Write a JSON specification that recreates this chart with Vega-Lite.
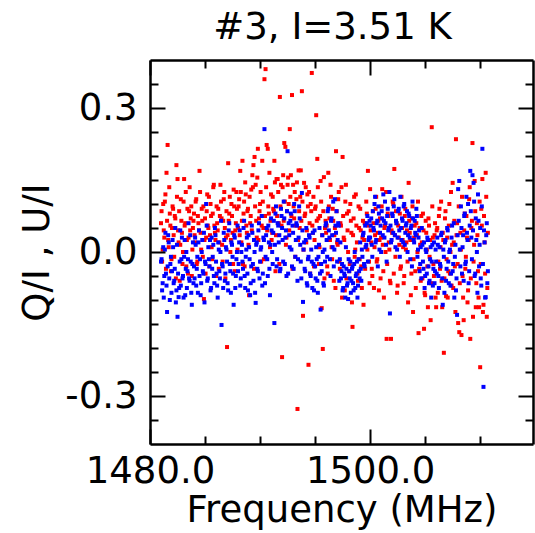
{
"$schema": "https://vega.github.io/schema/vega-lite/v6.json",
"autosize": {"type": "none"},
"padding": {"left": 150, "top": 60, "right": 2, "bottom": 89},
"width": 383,
"height": 384,
"background": "white",
"title": {"text": "#3, I=3.51 K", "font": "DejaVu Sans", "fontSize": 37, "fontWeight": "normal", "color": "black", "offset": 13, "dx": -9},
"config": {
  "view": {"stroke": null, "fill": null},
  "axis": {"labelFont": "DejaVu Sans", "titleFont": "DejaVu Sans", "labelColor": "black", "titleColor": "black", "domainColor": "black", "gridColor": "black", "gridOpacity": 1, "gridWidth": 2, "labelFontSize": 37, "titleFontSize": 37, "titleFontWeight": "normal", "domainWidth": 2.5, "labelOverlap": false, "labelFlush": false, "labelBound": false}
},
"data": {"values": [
{"f":1481.0,"q":0.06,"u":-0.02},{"f":1481.1,"q":-0.02,"u":-0.08},{"f":1481.2,"q":0.10,"u":0.01},{"f":1481.3,"q":0.03,"u":-0.05},{"f":1481.4,"q":0.12,"u":0.04},{"f":1481.5,"q":0.165,"u":-0.07},{"f":1481.6,"q":0.223,"u":-0.03},{"f":1481.7,"q":0.01,"u":0.02},{"f":1481.8,"q":0.08,"u":-0.10},{"f":1481.9,"q":-0.04,"u":-0.01},
{"f":1482.0,"q":0.05,"u":-0.04},{"f":1482.1,"q":0.09,"u":0.01},{"f":1482.2,"q":-0.01,"u":-0.06},{"f":1482.3,"q":0.07,"u":0.05},{"f":1482.4,"q":0.181,"u":-0.08},{"f":1482.5,"q":0.152,"u":-0.135},{"f":1482.6,"q":0.02,"u":-0.094},{"f":1482.7,"q":-0.06,"u":-0.02},{"f":1482.8,"q":0.11,"u":-0.07},{"f":1482.9,"q":0.04,"u":0.03},
{"f":1483.0,"q":0.00,"u":-0.05},{"f":1483.1,"q":0.152,"u":-0.01},{"f":1483.2,"q":0.06,"u":-0.09},{"f":1483.3,"q":-0.03,"u":0.00},{"f":1483.4,"q":0.09,"u":-0.04},{"f":1483.5,"q":0.03,"u":0.06},{"f":1483.6,"q":0.135,"u":-0.06},{"f":1483.7,"q":0.07,"u":-0.02},{"f":1483.8,"q":-0.05,"u":-0.11},{"f":1483.9,"q":0.05,"u":0.02},
{"f":1484.0,"q":0.08,"u":-0.03},{"f":1484.1,"q":0.02,"u":0.03},{"f":1484.2,"q":0.11,"u":-0.07},{"f":1484.3,"q":-0.02,"u":-0.01},{"f":1484.4,"q":0.06,"u":0.02},{"f":1484.5,"q":0.169,"u":-0.05},{"f":1484.6,"q":0.04,"u":-0.09},{"f":1484.7,"q":0.09,"u":0.00},{"f":1484.8,"q":-0.01,"u":-0.04},{"f":1484.9,"q":-0.098,"u":0.04},
{"f":1485.0,"q":0.07,"u":-0.02},{"f":1485.1,"q":0.03,"u":0.10},{"f":1485.2,"q":0.12,"u":-0.06},{"f":1485.3,"q":0.05,"u":0.01},{"f":1485.4,"q":-0.03,"u":-0.03},{"f":1485.5,"q":0.10,"u":-0.08},{"f":1485.6,"q":0.01,"u":0.03},{"f":1485.7,"q":0.08,"u":-0.01},{"f":1485.8,"q":0.14,"u":-0.05},{"f":1485.9,"q":0.04,"u":0.05},
{"f":1486.0,"q":-0.05,"u":-0.02},{"f":1486.1,"q":0.06,"u":-0.07},{"f":1486.2,"q":0.09,"u":0.02},{"f":1486.3,"q":0.02,"u":-0.04},{"f":1486.4,"q":0.14,"u":0.00},{"f":1486.5,"q":0.07,"u":-0.152},{"f":1486.6,"q":-0.02,"u":-0.03},{"f":1486.7,"q":0.11,"u":0.04},{"f":1486.8,"q":0.05,"u":-0.06},{"f":1486.9,"q":0.03,"u":0.01},
{"f":1487.0,"q":-0.198,"u":-0.02},{"f":1487.1,"q":0.185,"u":-0.08},{"f":1487.2,"q":0.08,"u":0.06},{"f":1487.3,"q":0.00,"u":-0.04},{"f":1487.4,"q":0.10,"u":0.02},{"f":1487.5,"q":0.04,"u":-0.01},{"f":1487.6,"q":0.13,"u":-0.11},{"f":1487.7,"q":-0.04,"u":0.03},{"f":1487.8,"q":0.06,"u":-0.05},{"f":1487.9,"q":0.09,"u":0.00},
{"f":1488.0,"q":0.05,"u":-0.04},{"f":1488.1,"q":0.11,"u":0.02},{"f":1488.2,"q":0.169,"u":-0.07},{"f":1488.3,"q":0.02,"u":0.00},{"f":1488.4,"q":0.19,"u":-0.02},{"f":1488.5,"q":0.08,"u":0.05},{"f":1488.6,"q":-0.03,"u":-0.05},{"f":1488.7,"q":0.12,"u":-0.01},{"f":1488.8,"q":0.04,"u":0.03},{"f":1488.9,"q":0.09,"u":-0.08},
{"f":1489.0,"q":-0.09,"u":0.01},{"f":1489.1,"q":0.06,"u":-0.09},{"f":1489.2,"q":0.13,"u":-0.03},{"f":1489.3,"q":0.16,"u":0.04},{"f":1489.4,"q":0.181,"u":-0.06},{"f":1489.5,"q":0.198,"u":0.00},{"f":1489.6,"q":0.14,"u":-0.106},{"f":1489.7,"q":0.03,"u":0.02},{"f":1489.8,"q":0.215,"u":-0.04},{"f":1489.9,"q":0.07,"u":0.06},
{"f":1490.0,"q":0.10,"u":-0.02},{"f":1490.1,"q":-0.02,"u":0.01},{"f":1490.2,"q":0.19,"u":-0.07},{"f":1490.3,"q":0.05,"u":0.03},{"f":1490.4,"q":0.36,"u":0.256},{"f":1490.5,"q":0.381,"u":-0.01},{"f":1490.6,"q":0.223,"u":0.05},{"f":1490.7,"q":0.215,"u":-0.05},{"f":1490.8,"q":0.08,"u":0.02},{"f":1490.9,"q":0.01,"u":-0.09},
{"f":1491.0,"q":0.12,"u":0.07},{"f":1491.1,"q":0.04,"u":0.00},{"f":1491.2,"q":0.09,"u":0.04},{"f":1491.3,"q":0.19,"u":-0.148},{"f":1491.4,"q":-0.04,"u":0.08},{"f":1491.5,"q":0.152,"u":-0.03},{"f":1491.6,"q":0.152,"u":0.06},{"f":1491.7,"q":0.06,"u":0.02},{"f":1491.8,"q":0.323,"u":-0.04},{"f":1491.9,"q":0.14,"u":0.09},
{"f":1492.0,"q":-0.219,"u":0.05},{"f":1492.1,"q":0.16,"u":-0.02},{"f":1492.2,"q":0.227,"u":0.07},{"f":1492.3,"q":0.219,"u":0.03},{"f":1492.4,"q":0.03,"u":-0.05},{"f":1492.5,"q":0.14,"u":0.21},{"f":1492.6,"q":0.10,"u":0.06},{"f":1492.7,"q":0.256,"u":0.01},{"f":1492.8,"q":0.16,"u":0.08},{"f":1492.9,"q":0.327,"u":-0.03},
{"f":1493.0,"q":0.14,"u":0.04},{"f":1493.1,"q":0.07,"u":0.10},{"f":1493.2,"q":-0.01,"u":-0.01},{"f":1493.3,"q":0.11,"u":0.06},{"f":1493.4,"q":-0.327,"u":-0.06},{"f":1493.5,"q":0.17,"u":0.03},{"f":1493.6,"q":0.05,"u":0.07},{"f":1493.7,"q":0.17,"u":-0.02},{"f":1493.8,"q":0.335,"u":0.123},{"f":1493.9,"q":-0.133,"u":-0.104},
{"f":1494.0,"q":0.144,"u":0.02},{"f":1494.1,"q":0.08,"u":-0.04},{"f":1494.2,"q":0.02,"u":0.05},{"f":1494.3,"q":0.12,"u":-0.07},{"f":1494.4,"q":-0.235,"u":-0.01},{"f":1494.5,"q":0.06,"u":0.03},{"f":1494.6,"q":0.10,"u":-0.05},{"f":1494.7,"q":0.373,"u":-0.02},{"f":1494.8,"q":0.04,"u":0.04},{"f":1494.9,"q":-0.03,"u":-0.08},
{"f":1495.0,"q":0.09,"u":-0.03},{"f":1495.1,"q":0.285,"u":0.01},{"f":1495.2,"q":0.194,"u":-0.06},{"f":1495.3,"q":0.07,"u":-0.01},{"f":1495.4,"q":0.01,"u":0.05},{"f":1495.5,"q":0.148,"u":-0.12},{"f":1495.6,"q":-0.117,"u":-0.04},{"f":1495.7,"q":-0.202,"u":0.00},{"f":1495.8,"q":0.156,"u":-0.07},{"f":1495.9,"q":0.05,"u":-0.02},
{"f":1496.0,"q":0.04,"u":0.06},{"f":1496.1,"q":-0.03,"u":-0.01},{"f":1496.2,"q":0.165,"u":0.09},{"f":1496.3,"q":0.07,"u":0.03},{"f":1496.4,"q":0.14,"u":-0.05},{"f":1496.5,"q":0.01,"u":0.07},{"f":1496.6,"q":0.09,"u":0.01},{"f":1496.7,"q":-0.06,"u":-0.03},{"f":1496.8,"q":0.05,"u":0.11},{"f":1496.9,"q":0.21,"u":0.04},
{"f":1497.0,"q":0.02,"u":-0.02},{"f":1497.1,"q":0.11,"u":0.06},{"f":1497.2,"q":-0.02,"u":-0.06},{"f":1497.3,"q":0.06,"u":0.02},{"f":1497.4,"q":0.135,"u":-0.04},{"f":1497.5,"q":0.198,"u":-0.08},{"f":1497.6,"q":0.03,"u":-0.03},{"f":1497.7,"q":-0.08,"u":-0.05},{"f":1497.8,"q":0.14,"u":0.01},{"f":1497.9,"q":0.08,"u":-0.07},
{"f":1498.0,"q":0.00,"u":-0.098},{"f":1498.1,"q":-0.04,"u":-0.04},{"f":1498.2,"q":0.10,"u":-0.02},{"f":1498.3,"q":0.04,"u":-0.06},{"f":1498.4,"q":-0.156,"u":-0.03},{"f":1498.5,"q":0.07,"u":-0.08},{"f":1498.6,"q":-0.01,"u":0.00},{"f":1498.7,"q":0.12,"u":-0.05},{"f":1498.8,"q":0.02,"u":-0.02},{"f":1498.9,"q":-0.06,"u":-0.07},
{"f":1499.0,"q":0.05,"u":-0.04},{"f":1499.1,"q":0.09,"u":0.02},{"f":1499.2,"q":-0.03,"u":-0.06},{"f":1499.3,"q":0.03,"u":-0.01},{"f":1499.4,"q":-0.11,"u":0.04},{"f":1499.5,"q":0.06,"u":-0.03},{"f":1499.6,"q":0.01,"u":0.01},{"f":1499.7,"q":0.08,"u":0.06},{"f":1499.8,"q":0.169,"u":-0.02},{"f":1499.9,"q":-0.02,"u":0.03},
{"f":1500.0,"q":0.131,"u":0.03},{"f":1500.1,"q":0.02,"u":0.07},{"f":1500.2,"q":-0.05,"u":-0.01},{"f":1500.3,"q":0.06,"u":0.05},{"f":1500.4,"q":0.01,"u":0.10},{"f":1500.5,"q":0.09,"u":0.02},{"f":1500.6,"q":-0.02,"u":0.06},{"f":1500.7,"q":0.04,"u":-0.03},{"f":1500.8,"q":-0.08,"u":0.08},{"f":1500.9,"q":0.07,"u":0.04},
{"f":1501.0,"q":0.03,"u":0.00},{"f":1501.1,"q":0.131,"u":0.07},{"f":1501.2,"q":-0.04,"u":0.12},{"f":1501.3,"q":0.05,"u":0.03},{"f":1501.4,"q":0.00,"u":0.06},{"f":1501.5,"q":-0.181,"u":-0.02},{"f":1501.6,"q":0.08,"u":0.09},{"f":1501.7,"q":0.02,"u":0.05},{"f":1501.8,"q":-0.06,"u":-0.128},{"f":1501.9,"q":-0.181,"u":0.02},
{"f":1502.0,"q":0.04,"u":0.08},{"f":1502.1,"q":0.10,"u":0.04},{"f":1502.2,"q":0.173,"u":0.11},{"f":1502.3,"q":-0.01,"u":0.01},{"f":1502.4,"q":0.06,"u":0.06},{"f":1502.5,"q":-0.07,"u":0.03},{"f":1502.6,"q":0.03,"u":0.09},{"f":1502.7,"q":0.08,"u":-0.01},{"f":1502.8,"q":-0.03,"u":0.05},{"f":1502.9,"q":0.05,"u":0.07},
{"f":1503.0,"q":0.01,"u":0.02},{"f":1503.1,"q":-0.05,"u":0.10},{"f":1503.2,"q":0.09,"u":0.04},{"f":1503.3,"q":0.02,"u":0.06},{"f":1503.4,"q":-0.02,"u":0.00},{"f":1503.5,"q":0.144,"u":0.08},{"f":1503.6,"q":0.04,"u":0.03},{"f":1503.7,"q":-0.09,"u":0.05},{"f":1503.8,"q":0.07,"u":-0.03},{"f":1503.9,"q":-0.125,"u":0.07},
{"f":1504.0,"q":0.03,"u":0.02},{"f":1504.1,"q":-0.04,"u":0.04},{"f":1504.2,"q":0.06,"u":0.09},{"f":1504.3,"q":0.00,"u":-0.01},{"f":1504.4,"q":-0.169,"u":0.03},{"f":1504.5,"q":0.05,"u":-0.04},{"f":1504.6,"q":-0.06,"u":0.01},{"f":1504.7,"q":0.02,"u":0.05},{"f":1504.8,"q":0.08,"u":-0.02},{"f":1504.9,"q":-0.16,"u":0.02},
{"f":1505.0,"q":-0.09,"u":-0.05},{"f":1505.1,"q":0.04,"u":0.00},{"f":1505.2,"q":-0.03,"u":0.03},{"f":1505.3,"q":0.07,"u":-0.03},{"f":1505.4,"q":-0.01,"u":-0.06},{"f":1505.5,"q":-0.142,"u":0.01},{"f":1505.6,"q":0.26,"u":-0.02},{"f":1505.7,"q":0.03,"u":-0.07},{"f":1505.8,"q":-0.05,"u":0.02},{"f":1505.9,"q":0.06,"u":-0.04},
{"f":1506.0,"q":-0.115,"u":-0.02},{"f":1506.1,"q":0.05,"u":0.03},{"f":1506.2,"q":-0.02,"u":-0.05},{"f":1506.3,"q":0.09,"u":0.01},{"f":1506.4,"q":0.01,"u":-0.03},{"f":1506.5,"q":-0.06,"u":0.04},{"f":1506.6,"q":0.04,"u":-0.11},{"f":1506.7,"q":-0.21,"u":-0.01},{"f":1506.8,"q":0.07,"u":0.02},{"f":1506.9,"q":-0.092,"u":-0.06},
{"f":1507.0,"q":0.03,"u":0.05},{"f":1507.1,"q":-0.04,"u":-0.02},{"f":1507.2,"q":0.10,"u":0.00},{"f":1507.3,"q":0.00,"u":-0.07},{"f":1507.4,"q":-0.07,"u":0.03},{"f":1507.5,"q":0.144,"u":-0.04},{"f":1507.6,"q":0.02,"u":0.06},{"f":1507.7,"q":-0.03,"u":-0.01},{"f":1507.8,"q":0.235,"u":-0.08},{"f":1507.9,"q":0.06,"u":-0.131},
{"f":1508.0,"q":-0.148,"u":0.131},{"f":1508.1,"q":-0.167,"u":0.148},{"f":1508.2,"q":0.04,"u":-0.03},{"f":1508.3,"q":-0.173,"u":0.05},{"f":1508.4,"q":-0.05,"u":0.01},{"f":1508.5,"q":-0.142,"u":-0.06},{"f":1508.6,"q":0.08,"u":0.08},{"f":1508.7,"q":-0.01,"u":-0.02},{"f":1508.8,"q":0.03,"u":0.04},{"f":1508.9,"q":-0.08,"u":0.10},
{"f":1509.0,"q":0.11,"u":-0.04},{"f":1509.1,"q":-0.181,"u":0.169},{"f":1509.2,"q":0.05,"u":0.03},{"f":1509.3,"q":0.227,"u":0.16},{"f":1509.4,"q":-0.02,"u":0.144},{"f":1509.5,"q":0.148,"u":-0.05},{"f":1509.6,"q":-0.115,"u":0.07},{"f":1509.7,"q":0.06,"u":0.00},{"f":1509.8,"q":-0.04,"u":0.12},{"f":1509.9,"q":-0.115,"u":-0.03},
{"f":1510.0,"q":-0.24,"u":0.05},{"f":1510.1,"q":0.09,"u":-0.07},{"f":1510.2,"q":0.152,"u":0.215},{"f":1510.3,"q":-0.11,"u":-0.281},{"f":1510.4,"q":0.02,"u":0.02},{"f":1510.5,"q":0.165,"u":-0.094},{"f":1510.6,"q":-0.135,"u":0.06},{"f":1510.7,"q":0.04,"u":-0.04},
{"f":1481.05,"q":0.085,"u":-0.015},{"f":1481.15,"q":0.005,"u":-0.065},{"f":1481.25,"q":0.045,"u":-0.095},{"f":1481.35,"q":0.105,"u":0.005},{"f":1481.45,"q":-0.035,"u":-0.045},{"f":1481.55,"q":0.065,"u":-0.125},{"f":1481.65,"q":0.025,"u":0.035},{"f":1481.75,"q":0.135,"u":-0.055},{"f":1481.85,"q":0.055,"u":-0.025},{"f":1481.95,"q":-0.015,"u":-0.085},
{"f":1482.05,"q":0.095,"u":0.025},{"f":1482.15,"q":0.035,"u":-0.065},{"f":1482.25,"q":0.075,"u":-0.035},{"f":1482.35,"q":-0.055,"u":-0.105},{"f":1482.45,"q":0.115,"u":0.015},{"f":1482.55,"q":0.045,"u":-0.045},{"f":1482.65,"q":0.085,"u":-0.075},{"f":1482.75,"q":0.015,"u":0.045},{"f":1482.85,"q":0.065,"u":-0.015},{"f":1482.95,"q":-0.025,"u":-0.055},
{"f":1483.05,"q":0.105,"u":-0.095},{"f":1483.15,"q":0.055,"u":0.025},{"f":1483.25,"q":0.125,"u":-0.035},{"f":1483.35,"q":0.025,"u":-0.075},{"f":1483.45,"q":-0.045,"u":-0.015},{"f":1483.55,"q":0.085,"u":-0.055},{"f":1483.65,"q":0.045,"u":0.035},{"f":1483.75,"q":0.095,"u":-0.085},{"f":1483.85,"q":0.005,"u":-0.025},{"f":1483.95,"q":0.065,"u":-0.065},
{"f":1484.05,"q":0.035,"u":-0.055},{"f":1484.15,"q":0.105,"u":0.015},{"f":1484.25,"q":-0.025,"u":-0.035},{"f":1484.35,"q":0.075,"u":-0.085},{"f":1484.45,"q":0.045,"u":0.045},{"f":1484.55,"q":0.125,"u":-0.015},{"f":1484.65,"q":0.005,"u":-0.065},{"f":1484.75,"q":0.065,"u":0.025},{"f":1484.85,"q":0.095,"u":-0.045},{"f":1484.95,"q":0.025,"u":-0.105},
{"f":1485.05,"q":-0.045,"u":-0.025},{"f":1485.15,"q":0.085,"u":0.055},{"f":1485.25,"q":0.055,"u":-0.055},{"f":1485.35,"q":0.115,"u":-0.015},{"f":1485.45,"q":0.035,"u":0.025},{"f":1485.55,"q":0.075,"u":-0.075},{"f":1485.65,"q":-0.015,"u":-0.035},{"f":1485.75,"q":0.135,"u":0.015},{"f":1485.85,"q":0.055,"u":-0.065},{"f":1485.95,"q":0.025,"u":0.035},
{"f":1486.05,"q":0.095,"u":-0.045},{"f":1486.15,"q":0.045,"u":-0.095},{"f":1486.25,"q":-0.035,"u":0.005},{"f":1486.35,"q":0.075,"u":-0.055},{"f":1486.45,"q":0.105,"u":0.065},{"f":1486.55,"q":0.015,"u":-0.025},{"f":1486.65,"q":0.065,"u":-0.075},{"f":1486.75,"q":0.125,"u":0.025},{"f":1486.85,"q":-0.055,"u":-0.045},{"f":1486.95,"q":0.085,"u":0.005},
{"f":1487.05,"q":0.035,"u":-0.065},{"f":1487.15,"q":0.065,"u":0.045},{"f":1487.25,"q":0.115,"u":-0.025},{"f":1487.35,"q":0.025,"u":-0.085},{"f":1487.45,"q":0.075,"u":0.015},{"f":1487.55,"q":-0.025,"u":-0.045},{"f":1487.65,"q":0.095,"u":0.035},{"f":1487.75,"q":0.045,"u":-0.075},{"f":1487.85,"q":0.125,"u":-0.015},{"f":1487.95,"q":0.005,"u":0.055},
{"f":1488.05,"q":0.095,"u":-0.025},{"f":1488.15,"q":0.035,"u":0.045},{"f":1488.25,"q":0.125,"u":-0.055},{"f":1488.35,"q":0.065,"u":0.015},{"f":1488.45,"q":-0.025,"u":-0.035},{"f":1488.55,"q":0.105,"u":0.065},{"f":1488.65,"q":0.145,"u":-0.075},{"f":1488.75,"q":0.055,"u":0.005},{"f":1488.85,"q":0.085,"u":-0.045},{"f":1488.95,"q":0.015,"u":0.035},
{"f":1489.05,"q":0.115,"u":-0.015},{"f":1489.15,"q":0.075,"u":-0.065},{"f":1489.25,"q":0.045,"u":0.055},{"f":1489.35,"q":0.135,"u":-0.025},{"f":1489.45,"q":-0.035,"u":0.025},{"f":1489.55,"q":0.095,"u":-0.085},{"f":1489.65,"q":0.065,"u":0.015},{"f":1489.75,"q":0.155,"u":-0.035},{"f":1489.85,"q":0.025,"u":0.045},{"f":1489.95,"q":0.085,"u":-0.055},
{"f":1490.05,"q":0.125,"u":0.005},{"f":1490.15,"q":0.055,"u":0.075},{"f":1490.25,"q":0.105,"u":-0.045},{"f":1490.35,"q":-0.015,"u":0.025},{"f":1490.45,"q":0.075,"u":-0.065},{"f":1490.55,"q":0.135,"u":0.035},{"f":1490.65,"q":0.045,"u":-0.015},{"f":1490.75,"q":0.095,"u":0.055},{"f":1490.85,"q":0.165,"u":-0.035},{"f":1490.95,"q":0.065,"u":0.015},
{"f":1491.05,"q":0.025,"u":0.045},{"f":1491.15,"q":0.115,"u":-0.025},{"f":1491.25,"q":0.085,"u":0.065},{"f":1491.35,"q":0.145,"u":0.015},{"f":1491.45,"q":0.035,"u":0.095},{"f":1491.55,"q":0.075,"u":-0.015},{"f":1491.65,"q":0.125,"u":0.055},{"f":1491.75,"q":-0.025,"u":0.035},{"f":1491.85,"q":0.095,"u":-0.035},{"f":1491.95,"q":0.055,"u":0.075},
{"f":1492.05,"q":0.135,"u":0.025},{"f":1492.15,"q":0.065,"u":0.105},{"f":1492.25,"q":0.105,"u":-0.025},{"f":1492.35,"q":0.015,"u":0.045},{"f":1492.45,"q":0.085,"u":0.085},{"f":1492.55,"q":0.155,"u":-0.045},{"f":1492.65,"q":0.045,"u":0.035},{"f":1492.75,"q":0.115,"u":0.065},{"f":1492.85,"q":0.075,"u":0.005},{"f":1492.95,"q":-0.035,"u":0.055},
{"f":1493.05,"q":0.095,"u":-0.035},{"f":1493.15,"q":0.125,"u":0.085},{"f":1493.25,"q":0.055,"u":0.025},{"f":1493.35,"q":0.145,"u":0.055},{"f":1493.45,"q":0.025,"u":-0.015},{"f":1493.55,"q":0.085,"u":0.095},{"f":1493.65,"q":0.115,"u":0.015},{"f":1493.75,"q":0.065,"u":-0.055},{"f":1493.85,"q":0.105,"u":0.045},{"f":1493.95,"q":0.005,"u":0.005},
{"f":1494.05,"q":0.075,"u":-0.035},{"f":1494.15,"q":0.135,"u":0.025},{"f":1494.25,"q":0.045,"u":-0.065},{"f":1494.35,"q":0.095,"u":-0.015},{"f":1494.45,"q":0.125,"u":0.035},{"f":1494.55,"q":-0.045,"u":-0.045},{"f":1494.65,"q":0.085,"u":0.005},{"f":1494.75,"q":0.055,"u":-0.075},{"f":1494.85,"q":0.115,"u":-0.025},{"f":1494.95,"q":0.025,"u":0.045},
{"f":1495.05,"q":0.095,"u":-0.055},{"f":1495.15,"q":0.065,"u":-0.015},{"f":1495.25,"q":0.135,"u":-0.085},{"f":1495.35,"q":-0.025,"u":0.015},{"f":1495.45,"q":0.075,"u":-0.045},{"f":1495.55,"q":0.105,"u":-0.025},{"f":1495.65,"q":0.035,"u":0.035},{"f":1495.75,"q":0.085,"u":-0.065},{"f":1495.85,"q":-0.055,"u":0.005},{"f":1495.95,"q":0.065,"u":0.055},
{"f":1496.05,"q":0.055,"u":0.025},{"f":1496.15,"q":-0.045,"u":0.085},{"f":1496.25,"q":0.095,"u":0.045},{"f":1496.35,"q":0.025,"u":-0.015},{"f":1496.45,"q":0.115,"u":0.065},{"f":1496.55,"q":-0.015,"u":0.035},{"f":1496.65,"q":0.065,"u":0.105},{"f":1496.75,"q":0.035,"u":0.005},{"f":1496.85,"q":-0.075,"u":0.055},{"f":1496.95,"q":0.085,"u":0.085},
{"f":1497.05,"q":0.015,"u":0.025},{"f":1497.15,"q":0.125,"u":0.055},{"f":1497.25,"q":-0.035,"u":-0.015},{"f":1497.35,"q":0.055,"u":-0.055},{"f":1497.45,"q":-0.095,"u":-0.025},{"f":1497.55,"q":0.075,"u":-0.075},{"f":1497.65,"q":0.025,"u":-0.045},{"f":1497.75,"q":0.105,"u":-0.095},{"f":1497.85,"q":-0.055,"u":-0.035},{"f":1497.95,"q":0.045,"u":-0.065},
{"f":1498.05,"q":0.085,"u":-0.015},{"f":1498.15,"q":-0.025,"u":-0.055},{"f":1498.25,"q":0.065,"u":-0.085},{"f":1498.35,"q":-0.105,"u":-0.035},{"f":1498.45,"q":0.035,"u":-0.065},{"f":1498.55,"q":0.115,"u":-0.025},{"f":1498.65,"q":0.005,"u":-0.075},{"f":1498.75,"q":0.055,"u":-0.045},{"f":1498.85,"q":-0.045,"u":-0.095},{"f":1498.95,"q":0.095,"u":-0.015},
{"f":1499.05,"q":-0.015,"u":-0.055},{"f":1499.15,"q":0.045,"u":-0.035},{"f":1499.25,"q":-0.075,"u":0.005},{"f":1499.35,"q":0.065,"u":0.035},{"f":1499.45,"q":0.025,"u":-0.025},{"f":1499.55,"q":-0.035,"u":0.055},{"f":1499.65,"q":0.105,"u":0.015},{"f":1499.75,"q":0.005,"u":0.075},{"f":1499.85,"q":0.055,"u":0.025},{"f":1499.95,"q":-0.065,"u":0.065},
{"f":1500.05,"q":0.045,"u":0.055},{"f":1500.15,"q":-0.035,"u":0.015},{"f":1500.25,"q":0.085,"u":0.085},{"f":1500.35,"q":-0.075,"u":0.045},{"f":1500.45,"q":0.035,"u":0.115},{"f":1500.55,"q":0.115,"u":0.025},{"f":1500.65,"q":-0.015,"u":0.065},{"f":1500.75,"q":0.065,"u":0.095},{"f":1500.85,"q":0.025,"u":0.005},{"f":1500.95,"q":-0.055,"u":0.055},
{"f":1501.05,"q":0.095,"u":0.085},{"f":1501.15,"q":0.015,"u":0.035},{"f":1501.25,"q":-0.095,"u":0.065},{"f":1501.35,"q":0.055,"u":0.105},{"f":1501.45,"q":0.125,"u":0.015},{"f":1501.55,"q":-0.025,"u":0.075},{"f":1501.65,"q":0.075,"u":0.045},{"f":1501.75,"q":0.005,"u":0.125},{"f":1501.85,"q":-0.065,"u":0.055},{"f":1501.95,"q":0.045,"u":0.025},
{"f":1502.05,"q":0.105,"u":0.075},{"f":1502.15,"q":-0.045,"u":0.095},{"f":1502.25,"q":0.035,"u":0.035},{"f":1502.35,"q":0.085,"u":0.065},{"f":1502.45,"q":-0.085,"u":0.005},{"f":1502.55,"q":0.055,"u":0.085},{"f":1502.65,"q":0.015,"u":0.045},{"f":1502.75,"q":-0.035,"u":0.115},{"f":1502.85,"q":0.115,"u":0.025},{"f":1502.95,"q":0.025,"u":0.065},
{"f":1503.05,"q":-0.065,"u":0.095},{"f":1503.15,"q":0.075,"u":0.015},{"f":1503.25,"q":0.005,"u":0.055},{"f":1503.35,"q":0.045,"u":0.085},{"f":1503.45,"q":-0.105,"u":0.035},{"f":1503.55,"q":0.065,"u":0.075},{"f":1503.65,"q":0.025,"u":-0.015},{"f":1503.75,"q":-0.045,"u":0.055},{"f":1503.85,"q":0.095,"u":0.105},{"f":1503.95,"q":-0.015,"u":0.025},
{"f":1504.05,"q":0.055,"u":0.065},{"f":1504.15,"q":-0.075,"u":0.035},{"f":1504.25,"q":0.035,"u":0.075},{"f":1504.35,"q":0.105,"u":0.005},{"f":1504.45,"q":-0.035,"u":0.045},{"f":1504.55,"q":0.015,"u":-0.025},{"f":1504.65,"q":0.075,"u":-0.055},{"f":1504.75,"q":-0.055,"u":0.015},{"f":1504.85,"q":0.045,"u":-0.035},{"f":1504.95,"q":-0.085,"u":-0.075},
{"f":1505.05,"q":0.065,"u":0.005},{"f":1505.15,"q":0.005,"u":-0.045},{"f":1505.25,"q":-0.115,"u":0.025},{"f":1505.35,"q":0.055,"u":-0.065},{"f":1505.45,"q":0.025,"u":-0.015},{"f":1505.55,"q":-0.065,"u":-0.095},{"f":1505.65,"q":0.095,"u":0.015},{"f":1505.75,"q":-0.025,"u":-0.035},{"f":1505.85,"q":0.035,"u":-0.065},{"f":1505.95,"q":-0.095,"u":0.005},
{"f":1506.05,"q":0.045,"u":-0.045},{"f":1506.15,"q":-0.085,"u":0.015},{"f":1506.25,"q":0.075,"u":-0.075},{"f":1506.35,"q":-0.035,"u":-0.025},{"f":1506.45,"q":0.105,"u":0.035},{"f":1506.55,"q":-0.115,"u":-0.055},{"f":1506.65,"q":0.025,"u":0.005},{"f":1506.75,"q":-0.055,"u":-0.085},{"f":1506.85,"q":0.085,"u":0.025},{"f":1506.95,"q":-0.015,"u":-0.035},
{"f":1507.05,"q":-0.095,"u":0.045},{"f":1507.15,"q":0.055,"u":-0.065},{"f":1507.25,"q":-0.045,"u":0.005},{"f":1507.35,"q":0.125,"u":-0.045},{"f":1507.45,"q":0.015,"u":0.055},{"f":1507.55,"q":-0.075,"u":-0.025},{"f":1507.65,"q":0.065,"u":-0.095},{"f":1507.75,"q":-0.125,"u":0.015},{"f":1507.85,"q":0.035,"u":-0.055},{"f":1507.95,"q":-0.025,"u":0.035},
{"f":1508.05,"q":0.095,"u":0.065},{"f":1508.15,"q":-0.065,"u":0.005},{"f":1508.25,"q":0.005,"u":0.095},{"f":1508.35,"q":0.115,"u":-0.045},{"f":1508.45,"q":-0.095,"u":0.035},{"f":1508.55,"q":0.045,"u":0.075},{"f":1508.65,"q":-0.035,"u":-0.025},{"f":1508.75,"q":0.075,"u":0.115},{"f":1508.85,"q":-0.105,"u":0.025},{"f":1508.95,"q":0.025,"u":-0.065},
{"f":1509.05,"q":0.135,"u":0.055},{"f":1509.15,"q":-0.055,"u":0.085},{"f":1509.25,"q":0.065,"u":-0.015},{"f":1509.35,"q":-0.135,"u":0.045},{"f":1509.45,"q":0.015,"u":0.105},{"f":1509.55,"q":0.085,"u":-0.045},{"f":1509.65,"q":-0.065,"u":0.025},{"f":1509.75,"q":0.035,"u":-0.085},{"f":1509.85,"q":-0.095,"u":0.065},{"f":1509.95,"q":0.105,"u":0.015},
{"f":1510.05,"q":-0.025,"u":-0.055},{"f":1510.15,"q":0.055,"u":0.095},{"f":1510.25,"q":-0.125,"u":-0.025},{"f":1510.35,"q":0.075,"u":0.045},{"f":1510.45,"q":-0.045,"u":-0.095},{"f":1510.55,"q":0.115,"u":0.035},{"f":1510.65,"q":-0.075,"u":-0.065}
]},
"resolve": {"axis": {"x": "independent", "y": "independent"}},
"layer": [
  {
    "mark": {"type": "point", "shape": "square", "filled": true, "size": 16, "color": "#ff0000", "opacity": 1},
    "encoding": {
      "x": {"field": "f", "type": "quantitative", "scale": {"domain": [1480, 1514.8], "nice": false, "zero": false},
        "axis": {"orient": "bottom", "values": [1480, 1500], "format": ".1f", "ticks": false, "labelPadding": 9, "title": "Frequency (MHz)", "titlePadding": 3,
          "grid": true, "gridDash": [15, 354, 15], "zindex": 1}},
      "y": {"field": "q", "type": "quantitative", "scale": {"domain": [-0.4, 0.4], "nice": false, "zero": false},
        "axis": {"orient": "left", "values": [-0.3, 0, 0.3], "ticks": false, "labelPadding": 13,
          "labelExpr": "datum.value < 0 ? '-' + format(-datum.value, '.1f') : format(datum.value, '.1f')",
          "title": "Q/I , U/I", "titlePadding": 8,
          "grid": true, "gridDash": [15, 353, 15], "zindex": 1}}
    }
  },
  {
    "mark": {"type": "point", "shape": "square", "filled": true, "size": 16, "color": "#0000ff", "opacity": 1},
    "encoding": {
      "x": {"field": "f", "type": "quantitative",
        "axis": {"orient": "top", "values": [1485, 1490, 1495, 1505, 1510], "labels": false, "ticks": false, "title": null,
          "grid": true, "gridDash": [8, 368, 8], "zindex": 1}},
      "y": {"field": "u", "type": "quantitative",
        "axis": {"orient": "right", "values": [-0.35, -0.25, -0.2, -0.15, -0.1, -0.05, 0.05, 0.1, 0.15, 0.2, 0.25, 0.35], "labels": false, "ticks": false, "title": null,
          "grid": true, "gridDash": [8, 367, 8], "zindex": 1}}
    }
  }
]
}
